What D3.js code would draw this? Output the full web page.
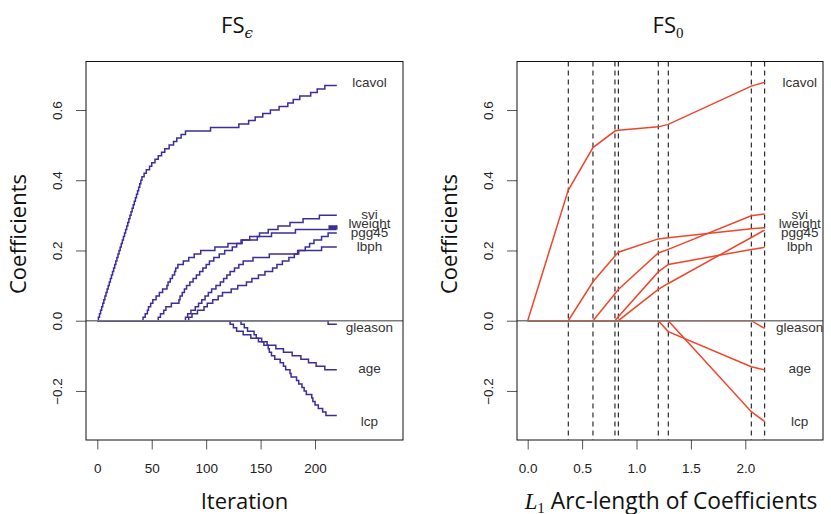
<!DOCTYPE html>
<html><head><meta charset="utf-8">
<script src="https://cdn.jsdelivr.net/npm/d3@7"></script>
<style>body{margin:0;background:#fff} svg{display:block}</style>
</head><body><svg id="c" width="831" height="514"></svg>
<script>
// ---------------- data ----------------
const varNames = ["lcavol","svi","lweight","pgg45","lbph","gleason","age","lcp"];
const varSigns = [1, 1, 1, 1, 1, -1, -1, -1];
const labelValues = [0.679, 0.303, 0.277, 0.252, 0.213, -0.020, -0.136, -0.286];
const yTicks = [-0.2, 0.0, 0.2, 0.4, 0.6];
const iterTicks = [0, 50, 100, 150, 200];
const arcTicks = [0.0, 0.5, 1.0, 1.5, 2.0];
const lastIter = 220;
const stepSize = 0.01;
const iterLabelPos = 250;
const arcLabelPos = 2.5;

// FS_eps: iterations at which each coefficient moves by one step
const lcavolSteps = [1,2,3,4,5,6,7,8,9,10,11,12,13,14,15,16,17,18,19,20,21,22,23,24,25,26,27,28,29,30,31,32,33,34,35,36,37,38,39,40,41,
  43,45,48,50,53,56,59,62,66,70,73,77,81,104,130,139,145,152,159,167,175,180,186,196,202,209];
const sviSteps = [56,58,61,63,68,75,76,78,80,82,85,88,91,94,97,100,103,107,112,117,124,128,133,140,149,157,166,177,189,204];
const lweightSteps = [42,44,46,47,49,51,54,57,60,64,65,67,69,71,72,74,79,84,89,95,108,120,132,147,160,182,213,215,217,219];
const lweightBack = [214,216,218,220];
const pgg45Steps = [84,87,92,98,101,106,111,115,123,129,137,142,148,154,161,165,170,176,181,185,191,195,199,206,212];
const lbphSteps = [81,83,86,90,93,96,99,102,105,109,113,116,119,122,126,130,134,143,158,184,206];
const gleasonSteps = [212];
const ageSteps = [122,125,128,134,141,148,156,164,171,179,187,194,201,209];
const lcpSteps = [132,135,138,144,146,151,153,157,158,160,163,168,171,173,177,178,183,185,188,190,192,197,198,200,203,207,210];

// FS_0: coefficients at the knots of L1 arc-length
const arcKnots   = [0, 0.373, 0.600, 0.802, 0.833, 1.200, 1.292, 2.055, 2.178];
const fs0Lcavol  = [0, 0.372, 0.493, 0.540, 0.542, 0.552, 0.559, 0.668, 0.679];
const fs0Svi     = [0, 0, 0, 0.077, 0.089, 0.193, 0.203, 0.299, 0.304];
const fs0Lweight = [0, 0, 0.111, 0.184, 0.195, 0.233, 0.236, 0.262, 0.265];
const fs0Pgg45   = [0, 0, 0, 0, 0, 0.089, 0.106, 0.237, 0.258];
const fs0Lbph    = [0, 0, 0, 0, 0.011, 0.139, 0.160, 0.203, 0.209];
const fs0Gleason = [0, 0, 0, 0, 0, 0, 0, 0, -0.022];
const fs0Age     = [0, 0, 0, 0, 0, 0, -0.031, -0.131, -0.140];
const fs0Lcp     = [0, 0, 0, 0, 0, 0, 0, -0.259, -0.287];

// ---------------- drawing ----------------
const svg = d3.select("#c");
const yTop = 61.5, yBot = 440;
const L = {x0: 86, x1: 403}, R = {x0: 517, x1: 823};
const blue = "#3b2e98", red = "#f0452a";
const sansTitle = "'Open Sans', 'DejaVu Sans', sans-serif";
const sansTick = "'Liberation Sans', Arial, Helvetica, sans-serif";

const y = d3.scaleLinear().domain([-0.3397, 0.7381]).range([yBot, yTop]);
const xL = d3.scaleLinear().domain([-10.38, 280.8]).range([L.x0, L.x1]);
const xR = d3.scaleLinear().domain([-0.0983, 2.714]).range([R.x0, R.x1]);

const fmtY = d => d3.format(".1f")(d).replace("-", "\u2212");

function panel(g, x, P, xTicks, xFmt, id) {
  svg.append("clipPath").attr("id", id).append("rect")
    .attr("x", P.x0).attr("y", yTop).attr("width", P.x1 - P.x0).attr("height", yBot - yTop);
  const ya = g.append("g").attr("transform", `translate(${P.x0},0)`)
    .call(d3.axisLeft(y).tickValues(yTicks).tickSize(10).tickFormat(fmtY));
  ya.select(".domain").remove();
  ya.selectAll(".tick line").attr("stroke", "#555").attr("stroke-width", 1);
  ya.selectAll(".tick text").attr("x", 0).attr("y", 0).attr("dy", "0.35em")
    .attr("transform", "translate(-28.5,0) rotate(-90)")
    .style("text-anchor", "middle").style("font-family", sansTick).style("font-size", "13.5px").attr("fill", "#222");
  const xa = g.append("g").attr("transform", `translate(0,${yBot})`)
    .call(d3.axisBottom(x).tickValues(xTicks).tickSize(9.5).tickFormat(xFmt));
  xa.select(".domain").remove();
  xa.selectAll(".tick line").attr("stroke", "#555").attr("stroke-width", 1);
  xa.selectAll(".tick text").attr("y", 28).attr("dy", "0.35em")
    .style("font-family", sansTick).style("font-size", "13.5px").attr("fill", "#222");
}

const gL = svg.append("g"), gR = svg.append("g");
panel(gL, xL, L, iterTicks, d3.format("d"), "clipL");
panel(gR, xR, R, arcTicks, d3.format(".1f"), "clipR");

// ---- left: FS_eps step paths ----
const stepLists = [lcavolSteps, sviSteps, lweightSteps, pgg45Steps, lbphSteps, gleasonSteps, ageSteps, lcpSteps];
const backLists = [[], [], lweightBack, [], [], [], [], []];
function stepSeries(ups, backs, sign) {
  const ev = ups.map(t => [t, 1]).concat(backs.map(t => [t, -1])).sort((a, b) => a[0] - b[0]);
  let v = 0; const pts = [[0, 0]];
  ev.forEach(([t, d]) => { v += d * stepSize * sign; pts.push([t, v]); });
  pts.push([lastIter, v]);
  return pts;
}
const lineL = d3.line().x(d => xL(d[0])).y(d => y(d[1])).curve(d3.curveStepAfter);
const seriesL = stepLists.map((s, i) => stepSeries(s, backLists[i], varSigns[i]));
gL.append("g").attr("clip-path", "url(#clipL)").selectAll("path").data(seriesL).join("path")
  .attr("d", lineL).attr("fill", "none").attr("stroke", blue).attr("stroke-width", 1.5);

// ---- right: FS_0 piecewise-linear paths ----
const fs0Series = [fs0Lcavol, fs0Svi, fs0Lweight, fs0Pgg45, fs0Lbph, fs0Gleason, fs0Age, fs0Lcp];
const gRc = gR.append("g").attr("clip-path", "url(#clipR)");
gRc.selectAll("line.knot").data(arcKnots.slice(1)).join("line").attr("class", "knot")
  .attr("x1", d => xR(d)).attr("x2", d => xR(d)).attr("y1", yTop).attr("y2", yBot)
  .attr("stroke", "#000").attr("stroke-width", 1).attr("stroke-dasharray", "5,4");
const lineR = d3.line().x((d, i) => xR(arcKnots[i])).y(d => y(d));
gRc.selectAll("path.fs0").data(fs0Series).join("path").attr("class", "fs0")
  .attr("d", lineR).attr("fill", "none").attr("stroke", red).attr("stroke-width", 1.5);

// zero lines, boxes, labels
[[gL, L, xL, iterLabelPos], [gR, R, xR, arcLabelPos]].forEach(([g, P, x, lp]) => {
  g.append("line").attr("x1", P.x0).attr("x2", P.x1).attr("y1", y(0)).attr("y2", y(0))
    .attr("stroke", "#7a7a7a").attr("stroke-width", 1.6);
  g.append("rect").attr("x", P.x0).attr("y", yTop).attr("width", P.x1 - P.x0).attr("height", yBot - yTop)
    .attr("fill", "none").attr("stroke", "#111").attr("stroke-width", 1);
  g.selectAll("text.vlab").data(varNames).join("text").attr("class", "vlab")
    .attr("x", x(lp)).attr("y", (d, i) => y(labelValues[i])).attr("dy", "0.35em")
    .attr("text-anchor", "middle").style("font-family", sansTick).style("font-size", "13.5px")
    .attr("fill", "#333").text(d => d);
  g.append("text").attr("transform", `translate(${P.x0 - 68},234) rotate(-90)`)
    .attr("dy", "0.35em").attr("text-anchor", "middle")
    .style("font-family", sansTitle).style("font-size", "22px").attr("fill", "#111").text("Coefficients");
});

// titles
function title(cx, sub, subFont) {
  const t = svg.append("text").attr("x", cx).attr("y", 33).attr("text-anchor", "middle")
    .style("font-family", sansTitle).style("font-size", "22px").attr("fill", "#111");
  t.append("tspan").text("FS");
  t.append("tspan").attr("dy", 5).style("font-family", subFont).style("font-size", "15px")
    .style("font-style", sub === "\u03f5" ? "italic" : "normal").text(sub);
}
title(237, "\u03f5", "'DejaVu Serif', serif");
title(668, "0", "'Liberation Serif', serif");

// x titles
svg.append("text").attr("x", (L.x0 + L.x1) / 2).attr("y", 509).attr("text-anchor", "middle")
  .style("font-family", sansTitle).style("font-size", "22px").attr("fill", "#111").text("Iteration");
const xt = svg.append("text").attr("x", 671).attr("y", 509).attr("text-anchor", "middle")
  .style("font-family", sansTitle).style("font-size", "22.8px").attr("fill", "#111");
xt.append("tspan").style("font-family", "'Liberation Serif', serif").style("font-style", "italic").text("L");
xt.append("tspan").attr("dy", 4).style("font-family", "'Liberation Serif', serif").style("font-size", "15px").text("1");
xt.append("tspan").attr("dy", -4).text("\u00a0Arc-length of Coefficients");
</script></body></html>
